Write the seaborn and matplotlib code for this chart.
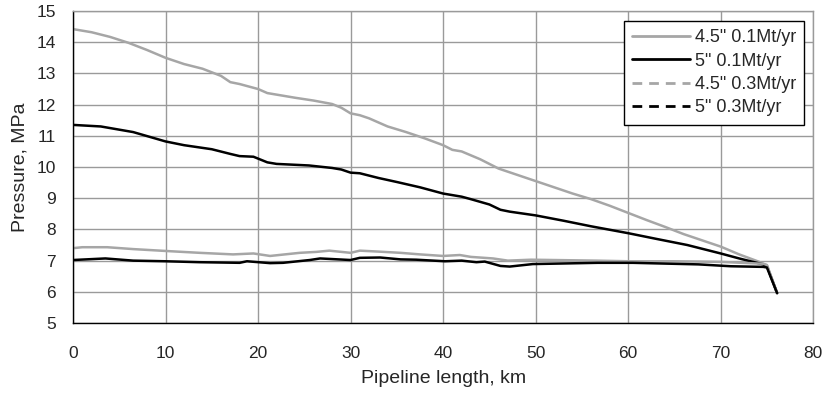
import matplotlib
matplotlib.use("Agg")
import matplotlib.pyplot as plt
from matplotlib.lines import Line2D
import seaborn as sns
import pandas as pd

# 4.5" 0.1Mt/yr
x_a = [0, 2, 4, 6, 8, 10, 12, 14, 16, 17, 18, 19, 20, 21, 22, 24, 26, 28, 29, 30, 31, 32, 34, 36, 38,
       40, 41, 42, 44, 46, 48, 50, 52, 54, 56, 58, 60, 62, 64, 66, 68, 70, 72, 74, 75, 76.1]
y_a = [14.42, 14.32, 14.17, 13.98, 13.75, 13.5, 13.3, 13.15, 12.92, 12.72, 12.66, 12.58, 12.5, 12.37,
       12.32, 12.22, 12.13, 12.02, 11.9, 11.72, 11.66, 11.56, 11.3, 11.12, 10.92,
       10.7, 10.55, 10.5, 10.25, 9.95, 9.75, 9.55, 9.35, 9.15, 8.97, 8.76, 8.53, 8.3, 8.08, 7.85,
       7.65, 7.45, 7.2, 6.98, 6.85, 5.96]

# 5" 0.1Mt/yr
x_b = [0, 3, 6.5, 10, 12, 15, 17, 18, 19.5, 21, 22, 25.5, 28, 29, 30, 31, 33, 35, 37.5, 40, 42, 43,
       45, 46.2, 47.2, 50, 53, 56, 60, 63, 66.4, 70, 72, 74.6, 75, 76.1]
y_b = [11.35, 11.3, 11.12, 10.82, 10.7, 10.57, 10.42, 10.35, 10.33, 10.15, 10.1, 10.05, 9.97, 9.92,
       9.82, 9.8, 9.65, 9.52, 9.35, 9.15, 9.05, 8.97, 8.8, 8.63, 8.57, 8.45, 8.28, 8.1, 7.88, 7.7,
       7.5, 7.23, 7.07, 6.88, 6.82, 5.96]

# 4.5" 0.3Mt/yr
x_c = [0, 1, 3.7, 6.5, 10, 13.7, 17.3, 19.5, 21.3, 24.5, 26.3, 27.7, 30, 31, 33, 35.4, 37.5, 40,
       41.8, 43, 45.4, 47, 49.5, 56.6, 60, 65, 70, 74.6, 75, 76.1]
y_c = [7.40, 7.43, 7.43, 7.37, 7.31, 7.25, 7.2, 7.23, 7.15, 7.25, 7.28, 7.32, 7.25, 7.32, 7.29, 7.25,
       7.2, 7.15, 7.18, 7.12, 7.07, 7.0, 7.03, 7.0, 6.98, 6.98, 6.96, 6.9, 6.86, 5.96]

# 5" 0.3Mt/yr
x_d = [0, 3.5, 6.5, 10, 13.7, 18, 18.8, 21.3, 22.7, 25.6, 26.7, 30, 31, 33.2, 35.4, 37.1, 40.2, 42,
       43.6, 44.5, 46.2, 47.2, 49.7, 56.7, 60.5, 67.6, 71.1, 74.6, 75, 76.1]
y_d = [7.02, 7.07, 7.0, 6.98, 6.95, 6.93, 6.98, 6.92, 6.93, 7.02, 7.07, 7.02, 7.09, 7.1, 7.04, 7.03,
       6.98, 7.0, 6.95, 6.97, 6.83, 6.81, 6.89, 6.93, 6.93, 6.88, 6.82, 6.8, 6.78, 5.96]

labels = ['4.5" 0.1Mt/yr', '5" 0.1Mt/yr', '4.5" 0.3Mt/yr', '5" 0.3Mt/yr']

frames = []
for lab, xs, ys in zip(labels, [x_a, x_b, x_c, x_d], [y_a, y_b, y_c, y_d]):
    frames.append(pd.DataFrame({"x": xs, "y": ys, "series": lab}))
df = pd.concat(frames, ignore_index=True)

sns.set_style("white")
plt.rcParams['font.family'] = ['Liberation Sans', 'DejaVu Sans']

GRAY = "#a6a6a6"
palette = {labels[0]: GRAY, labels[1]: "black", labels[2]: GRAY, labels[3]: "black"}

fig = plt.figure(figsize=(8.27, 3.93), dpi=100)
ax = fig.add_axes([0.0883, 0.178, 0.895, 0.794])

sns.lineplot(data=df, x="x", y="y", hue="series", palette=palette, hue_order=labels,
             sort=False, estimator=None, lw=1.8, legend=False, ax=ax)

ax.set_xlim(0, 80)
ax.set_ylim(5, 15)
ax.set_xticks(range(0, 81, 10))
ax.set_yticks(range(5, 16, 1))
ax.grid(True, color="#9a9a9a", lw=1.0)
ax.set_axisbelow(True)
for s in ["top", "right"]:
    ax.spines[s].set_color("#9a9a9a")
    ax.spines[s].set_linewidth(1.0)
for s in ["left", "bottom"]:
    ax.spines[s].set_color("black")
    ax.spines[s].set_linewidth(1.0)
ax.tick_params(axis="both", direction="out", length=4.3, width=1, color="black",
               labelsize=12.5)
ax.tick_params(axis="y", pad=8)
ax.tick_params(axis="x", pad=12)
ax.set_xlabel("Pipeline length, km", fontsize=14, labelpad=7)
ax.set_ylabel("Pressure, MPa", fontsize=14, labelpad=6)

handles = [Line2D([], [], color=GRAY, lw=2),
           Line2D([], [], color="black", lw=2),
           Line2D([], [], color=GRAY, lw=2, ls=(0, (3.5, 2.5))),
           Line2D([], [], color="black", lw=2, ls=(0, (3.5, 2.5)))]
leg = ax.legend(handles, labels, loc="upper right", bbox_to_anchor=(0.988, 0.967),
                fontsize=13, frameon=True, fancybox=False, edgecolor="black",
                framealpha=1, handlelength=3.2, handletextpad=0.3, borderpad=0.45,
                labelspacing=0.35, borderaxespad=0)
leg.get_frame().set_linewidth(1.0)

fig.savefig("out.png", dpi=100)
